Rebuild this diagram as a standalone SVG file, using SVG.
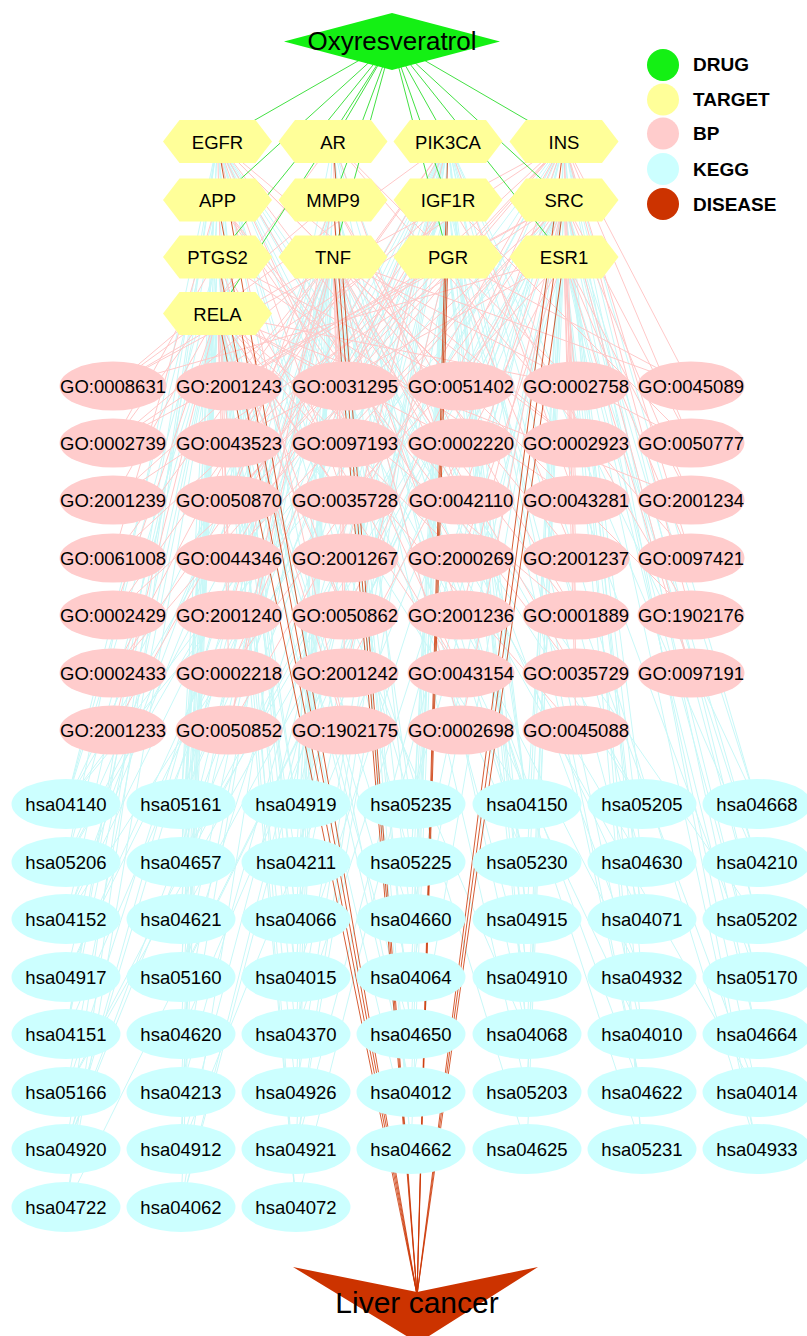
<svg xmlns="http://www.w3.org/2000/svg" xmlns:xlink="http://www.w3.org/1999/xlink" width="807" height="1336" viewBox="0 0 807 1336">
<style>
text{font-family:"Liberation Sans",Arial,sans-serif;fill:#000;text-anchor:middle;font-size:18.5px}
.leg{text-anchor:start;font-weight:bold;font-size:19px}
.e{fill:none;stroke-width:1}
.ek{stroke:#c8f8f8}
.eb{stroke:#ffc8c8}
.ed{stroke:#2edc2e;stroke-width:0.9}
.ex{stroke:#cc3300;stroke-width:0.8}
.drug{fill:#14f014}
.tg{fill:#ffff99}
.bp{fill:#ffcccc}
.kg{fill:#ccffff}
.ds{fill:#cc3300}
</style>
<defs>
<polygon id="hex" points="-54.5,0 -38,-21.5 38,-21.5 54.5,0 38,21.5 -38,21.5"/>
<ellipse id="goe" rx="53.5" ry="24.5"/>
<ellipse id="kge" rx="54.5" ry="25"/>
</defs>
<g id="edges">
<path class="e ek" d="M217.5 141.5L181 804M217.5 141.5L411 804M217.5 141.5L642 804M217.5 141.5L66 862M217.5 141.5L411 862M217.5 141.5L527 862M217.5 141.5L642 862M217.5 141.5L181 919M217.5 141.5L296 919M217.5 141.5L757 919M217.5 141.5L296 977M217.5 141.5L642 977M217.5 141.5L66 1034M217.5 141.5L642 1034M217.5 141.5L411 1092M217.5 141.5L757 1092M217.5 141.5L66 1149M217.5 141.5L527 1149M217.5 141.5L66 1207M217.5 141.5L296 1207"/>
<path class="e ek" d="M448 141.5L66 804M448 141.5L181 804M448 141.5L296 804M448 141.5L527 804M448 141.5L757 804M448 141.5L66 862M448 141.5L296 862M448 141.5L411 862M448 141.5L642 862M448 141.5L757 862M448 141.5L66 919M448 141.5L411 919M448 141.5L527 919M448 141.5L66 977M448 141.5L181 977M448 141.5L411 977M448 141.5L527 977M448 141.5L757 977M448 141.5L66 1034M448 141.5L296 1034M448 141.5L527 1034M448 141.5L642 1034M448 141.5L181 1092M448 141.5L296 1092M448 141.5L411 1092M448 141.5L642 1092M448 141.5L66 1149M448 141.5L181 1149M448 141.5L296 1149M448 141.5L757 1149M448 141.5L181 1207"/>
<path class="e ek" d="M564 141.5L66 804M564 141.5L411 804M564 141.5L757 804M564 141.5L181 862M564 141.5L527 862M564 141.5L66 919M564 141.5L527 919M564 141.5L757 919M564 141.5L296 977M564 141.5L642 977M564 141.5L181 1034M564 141.5L757 1034M564 141.5L66 1092M564 141.5L527 1092M564 141.5L296 1149M564 141.5L642 1149M564 141.5L757 1149M564 141.5L296 1207"/>
<path class="e ek" d="M564 200L66 804M564 200L296 804M564 200L642 804M564 200L757 804M564 200L181 862M564 200L642 862M564 200L757 862M564 200L181 919M564 200L411 919M564 200L642 919M564 200L757 919M564 200L181 977M564 200L411 977M564 200L757 977M564 200L296 1034M564 200L527 1034M564 200L66 1092M564 200L411 1092M564 200L757 1092M564 200L181 1149M564 200L527 1149M564 200L66 1207"/>
<path class="e ek" d="M448 200L181 804M448 200L527 804M448 200L66 862M448 200L411 862M448 200L296 919M448 200L642 919M448 200L66 977M448 200L527 977M448 200L411 1034M448 200L642 1092M448 200L66 1149M448 200L411 1149M448 200L181 1207"/>
<path class="e ek" d="M217.5 313.5L66 804M217.5 313.5L181 804M217.5 313.5L296 804M217.5 313.5L527 804M217.5 313.5L66 862M217.5 313.5L181 862M217.5 313.5L296 862M217.5 313.5L181 919M217.5 313.5L411 919M217.5 313.5L66 977M217.5 313.5L181 977M217.5 313.5L296 977M217.5 313.5L411 977M217.5 313.5L66 1034M217.5 313.5L181 1034M217.5 313.5L411 1034M217.5 313.5L527 1034M217.5 313.5L66 1092M217.5 313.5L181 1092M217.5 313.5L296 1092M217.5 313.5L181 1149M217.5 313.5L411 1149M217.5 313.5L66 1207M217.5 313.5L181 1207M217.5 313.5L296 1207"/>
<path class="e ek" d="M333 257L66 804M333 257L181 804M333 257L411 804M333 257L642 804M333 257L66 862M333 257L181 862M333 257L296 862M333 257L527 862M333 257L66 919M333 257L181 919M333 257L296 919M333 257L411 919M333 257L642 919M333 257L181 977M333 257L296 977M333 257L527 977M333 257L181 1034M333 257L296 1034M333 257L411 1034M333 257L66 1092M333 257L296 1092M333 257L527 1092M333 257L642 1092M333 257L66 1149M333 257L296 1149M333 257L411 1149M333 257L181 1207"/>
<path class="e ek" d="M333 200L181 804M333 200L296 804M333 200L527 862M333 200L66 919M333 200L296 977M333 200L411 1034M333 200L181 1092M333 200L66 1149M333 200L642 1149"/>
<path class="e ek" d="M217.5 257L66 804M217.5 257L296 804M217.5 257L181 862M217.5 257L66 919M217.5 257L181 977M217.5 257L296 1034M217.5 257L411 1092M217.5 257L181 1149M217.5 257L296 1207"/>
<path class="e ek" d="M564 257L411 804M564 257L527 804M564 257L757 862M564 257L642 919M564 257L757 977M564 257L642 1034M564 257L757 1034M564 257L527 1092M564 257L757 1149M564 257L642 1149"/>
<path class="e ek" d="M448 257L527 804M448 257L296 862M448 257L527 919M448 257L411 977M448 257L527 1034M448 257L757 1092M448 257L296 1149"/>
<path class="e ek" d="M333 141.5L296 804M333 141.5L527 804M333 141.5L411 862M333 141.5L181 919M333 141.5L642 977M333 141.5L527 1034M333 141.5L411 1149"/>
<path class="e ek" d="M217.5 200L66 804M217.5 200L181 862M217.5 200L296 919M217.5 200L66 1034M217.5 200L181 1149"/>
<path class="e eb" d="M333 257L113 386M333 257L229 386M333 257L461 386M333 257L691 386M333 257L113 443M333 257L345 443M333 257L576 443M333 257L691 443M333 257L229 500M333 257L461 500M333 257L113 558M333 257L345 558M333 257L576 558M333 257L229 615M333 257L461 615M333 257L691 615M333 257L113 673M333 257L345 673M333 257L576 673M333 257L229 730M333 257L461 730"/>
<path class="e eb" d="M217.5 313.5L345 386M217.5 313.5L576 386M217.5 313.5L229 443M217.5 313.5L461 443M217.5 313.5L113 500M217.5 313.5L345 500M217.5 313.5L691 500M217.5 313.5L229 558M217.5 313.5L461 558M217.5 313.5L113 615M217.5 313.5L345 615M217.5 313.5L576 615M217.5 313.5L229 673M217.5 313.5L461 673M217.5 313.5L113 730M217.5 313.5L345 730M217.5 313.5L576 730"/>
<path class="e eb" d="M564 141.5L113 386M564 141.5L345 386M564 141.5L691 386M564 141.5L113 443M564 141.5L461 443M564 141.5L691 443M564 141.5L229 500M564 141.5L576 500M564 141.5L113 558M564 141.5L691 558M564 141.5L345 615M564 141.5L691 615M564 141.5L113 673M564 141.5L576 673M564 141.5L229 730"/>
<path class="e eb" d="M564 200L229 386M564 200L461 386M564 200L113 443M564 200L345 443M564 200L691 443M564 200L113 500M564 200L461 500M564 200L691 500M564 200L229 558M564 200L576 558M564 200L113 615M564 200L461 615M564 200L229 673M564 200L691 673M564 200L461 730"/>
<path class="e eb" d="M564 257L113 386M564 257L576 386M564 257L229 443M564 257L576 443M564 257L345 500M564 257L691 500M564 257L461 558M564 257L691 558M564 257L576 615M564 257L345 673M564 257L691 673M564 257L576 730"/>
<path class="e eb" d="M217.5 141.5L461 386M217.5 141.5L576 443M217.5 141.5L345 500M217.5 141.5L576 500M217.5 141.5L461 558M217.5 141.5L229 615M217.5 141.5L576 615M217.5 141.5L461 673M217.5 141.5L345 730"/>
<path class="e eb" d="M448 141.5L113 386M448 141.5L229 443M448 141.5L576 500M448 141.5L345 558M448 141.5L113 615M448 141.5L229 673M448 141.5L113 730"/>
<path class="e eb" d="M448 200L345 386M448 200L691 443M448 200L113 500M448 200L229 558M448 200L691 615M448 200L113 673"/>
<path class="e eb" d="M333 141.5L576 386M333 141.5L113 443M333 141.5L461 500M333 141.5L691 558M333 141.5L345 615"/>
<path class="e eb" d="M448 257L229 386M448 257L691 386M448 257L229 500M448 257L576 558M448 257L345 673"/>
<path class="e eb" d="M333 200L113 386M333 200L461 443M333 200L229 500M333 200L576 615M333 200L229 730"/>
<path class="e eb" d="M217.5 200L345 386M217.5 200L461 500M217.5 200L113 558M217.5 200L576 673"/>
<path class="e eb" d="M217.5 257L461 386M217.5 257L113 443M217.5 257L576 500M217.5 257L345 615M217.5 257L461 673"/>
<path class="e ed" d="M392 41.5L217.5 141.5M392 41.5L333 141.5M392 41.5L448 141.5M392 41.5L564 141.5M392 41.5L217.5 200M392 41.5L333 200M392 41.5L448 200M392 41.5L564 200M392 41.5L217.5 257M392 41.5L333 257M392 41.5L448 257M392 41.5L564 257M392 41.5L217.5 313.5"/>
<path class="e ex" d="M417 1295L217.5 141.5M417 1295L333 141.5M417 1295L448 141.5M417 1295L564 141.5M417 1295L217.5 200M417 1295L333 200M417 1295L448 200M417 1295L564 200M417 1295L217.5 257M417 1295L333 257M417 1295L448 257M417 1295L564 257M417 1295L217.5 313.5"/>
</g>
<g id="legend">
<circle class="drug" cx="663" cy="65" r="16"/><text class="leg" x="693" y="71">DRUG</text>
<circle class="tg" cx="663" cy="99.5" r="16"/><text class="leg" x="693" y="106">TARGET</text>
<circle class="bp" cx="663" cy="133.5" r="16"/><text class="leg" x="693" y="140">BP</text>
<circle class="kg" cx="663" cy="169" r="16"/><text class="leg" x="693" y="175.5">KEGG</text>
<circle class="ds" cx="663" cy="204" r="16"/><text class="leg" x="693" y="210.5">DISEASE</text>
</g>
<g id="drug-Oxyresveratrol">
<polygon class="drug" points="284,41.5 392,13 500,41.5 392,70"/>
<text x="392" y="50" style="font-size:26px">Oxyresveratrol</text>
</g>
<g id="target-EGFR" transform="translate(217.5,141.5)"><use xlink:href="#hex" class="tg"/><text y="7">EGFR</text></g>
<g id="target-AR" transform="translate(333,141.5)"><use xlink:href="#hex" class="tg"/><text y="7">AR</text></g>
<g id="target-PIK3CA" transform="translate(448,141.5)"><use xlink:href="#hex" class="tg"/><text y="7">PIK3CA</text></g>
<g id="target-INS" transform="translate(564,141.5)"><use xlink:href="#hex" class="tg"/><text y="7">INS</text></g>
<g id="target-APP" transform="translate(217.5,200)"><use xlink:href="#hex" class="tg"/><text y="7">APP</text></g>
<g id="target-MMP9" transform="translate(333,200)"><use xlink:href="#hex" class="tg"/><text y="7">MMP9</text></g>
<g id="target-IGF1R" transform="translate(448,200)"><use xlink:href="#hex" class="tg"/><text y="7">IGF1R</text></g>
<g id="target-SRC" transform="translate(564,200)"><use xlink:href="#hex" class="tg"/><text y="7">SRC</text></g>
<g id="target-PTGS2" transform="translate(217.5,257)"><use xlink:href="#hex" class="tg"/><text y="7">PTGS2</text></g>
<g id="target-TNF" transform="translate(333,257)"><use xlink:href="#hex" class="tg"/><text y="7">TNF</text></g>
<g id="target-PGR" transform="translate(448,257)"><use xlink:href="#hex" class="tg"/><text y="7">PGR</text></g>
<g id="target-ESR1" transform="translate(564,257)"><use xlink:href="#hex" class="tg"/><text y="7">ESR1</text></g>
<g id="target-RELA" transform="translate(217.5,313.5)"><use xlink:href="#hex" class="tg"/><text y="7">RELA</text></g>
<g id="go-0008631" transform="translate(113,386)"><use xlink:href="#goe" class="bp"/><text y="6.8">GO:0008631</text></g>
<g id="go-2001243" transform="translate(229,386)"><use xlink:href="#goe" class="bp"/><text y="6.8">GO:2001243</text></g>
<g id="go-0031295" transform="translate(345,386)"><use xlink:href="#goe" class="bp"/><text y="6.8">GO:0031295</text></g>
<g id="go-0051402" transform="translate(461,386)"><use xlink:href="#goe" class="bp"/><text y="6.8">GO:0051402</text></g>
<g id="go-0002758" transform="translate(576,386)"><use xlink:href="#goe" class="bp"/><text y="6.8">GO:0002758</text></g>
<g id="go-0045089" transform="translate(691,386)"><use xlink:href="#goe" class="bp"/><text y="6.8">GO:0045089</text></g>
<g id="go-0002739" transform="translate(113,443)"><use xlink:href="#goe" class="bp"/><text y="6.8">GO:0002739</text></g>
<g id="go-0043523" transform="translate(229,443)"><use xlink:href="#goe" class="bp"/><text y="6.8">GO:0043523</text></g>
<g id="go-0097193" transform="translate(345,443)"><use xlink:href="#goe" class="bp"/><text y="6.8">GO:0097193</text></g>
<g id="go-0002220" transform="translate(461,443)"><use xlink:href="#goe" class="bp"/><text y="6.8">GO:0002220</text></g>
<g id="go-0002923" transform="translate(576,443)"><use xlink:href="#goe" class="bp"/><text y="6.8">GO:0002923</text></g>
<g id="go-0050777" transform="translate(691,443)"><use xlink:href="#goe" class="bp"/><text y="6.8">GO:0050777</text></g>
<g id="go-2001239" transform="translate(113,500)"><use xlink:href="#goe" class="bp"/><text y="6.8">GO:2001239</text></g>
<g id="go-0050870" transform="translate(229,500)"><use xlink:href="#goe" class="bp"/><text y="6.8">GO:0050870</text></g>
<g id="go-0035728" transform="translate(345,500)"><use xlink:href="#goe" class="bp"/><text y="6.8">GO:0035728</text></g>
<g id="go-0042110" transform="translate(461,500)"><use xlink:href="#goe" class="bp"/><text y="6.8">GO:0042110</text></g>
<g id="go-0043281" transform="translate(576,500)"><use xlink:href="#goe" class="bp"/><text y="6.8">GO:0043281</text></g>
<g id="go-2001234" transform="translate(691,500)"><use xlink:href="#goe" class="bp"/><text y="6.8">GO:2001234</text></g>
<g id="go-0061008" transform="translate(113,558)"><use xlink:href="#goe" class="bp"/><text y="6.8">GO:0061008</text></g>
<g id="go-0044346" transform="translate(229,558)"><use xlink:href="#goe" class="bp"/><text y="6.8">GO:0044346</text></g>
<g id="go-2001267" transform="translate(345,558)"><use xlink:href="#goe" class="bp"/><text y="6.8">GO:2001267</text></g>
<g id="go-2000269" transform="translate(461,558)"><use xlink:href="#goe" class="bp"/><text y="6.8">GO:2000269</text></g>
<g id="go-2001237" transform="translate(576,558)"><use xlink:href="#goe" class="bp"/><text y="6.8">GO:2001237</text></g>
<g id="go-0097421" transform="translate(691,558)"><use xlink:href="#goe" class="bp"/><text y="6.8">GO:0097421</text></g>
<g id="go-0002429" transform="translate(113,615)"><use xlink:href="#goe" class="bp"/><text y="6.8">GO:0002429</text></g>
<g id="go-2001240" transform="translate(229,615)"><use xlink:href="#goe" class="bp"/><text y="6.8">GO:2001240</text></g>
<g id="go-0050862" transform="translate(345,615)"><use xlink:href="#goe" class="bp"/><text y="6.8">GO:0050862</text></g>
<g id="go-2001236" transform="translate(461,615)"><use xlink:href="#goe" class="bp"/><text y="6.8">GO:2001236</text></g>
<g id="go-0001889" transform="translate(576,615)"><use xlink:href="#goe" class="bp"/><text y="6.8">GO:0001889</text></g>
<g id="go-1902176" transform="translate(691,615)"><use xlink:href="#goe" class="bp"/><text y="6.8">GO:1902176</text></g>
<g id="go-0002433" transform="translate(113,673)"><use xlink:href="#goe" class="bp"/><text y="6.8">GO:0002433</text></g>
<g id="go-0002218" transform="translate(229,673)"><use xlink:href="#goe" class="bp"/><text y="6.8">GO:0002218</text></g>
<g id="go-2001242" transform="translate(345,673)"><use xlink:href="#goe" class="bp"/><text y="6.8">GO:2001242</text></g>
<g id="go-0043154" transform="translate(461,673)"><use xlink:href="#goe" class="bp"/><text y="6.8">GO:0043154</text></g>
<g id="go-0035729" transform="translate(576,673)"><use xlink:href="#goe" class="bp"/><text y="6.8">GO:0035729</text></g>
<g id="go-0097191" transform="translate(691,673)"><use xlink:href="#goe" class="bp"/><text y="6.8">GO:0097191</text></g>
<g id="go-2001233" transform="translate(113,730)"><use xlink:href="#goe" class="bp"/><text y="6.8">GO:2001233</text></g>
<g id="go-0050852" transform="translate(229,730)"><use xlink:href="#goe" class="bp"/><text y="6.8">GO:0050852</text></g>
<g id="go-1902175" transform="translate(345,730)"><use xlink:href="#goe" class="bp"/><text y="6.8">GO:1902175</text></g>
<g id="go-0002698" transform="translate(461,730)"><use xlink:href="#goe" class="bp"/><text y="6.8">GO:0002698</text></g>
<g id="go-0045088" transform="translate(576,730)"><use xlink:href="#goe" class="bp"/><text y="6.8">GO:0045088</text></g>
<g id="kegg-hsa04140" transform="translate(66,804)"><use xlink:href="#kge" class="kg"/><text y="6.7">hsa04140</text></g>
<g id="kegg-hsa05161" transform="translate(181,804)"><use xlink:href="#kge" class="kg"/><text y="6.7">hsa05161</text></g>
<g id="kegg-hsa04919" transform="translate(296,804)"><use xlink:href="#kge" class="kg"/><text y="6.7">hsa04919</text></g>
<g id="kegg-hsa05235" transform="translate(411,804)"><use xlink:href="#kge" class="kg"/><text y="6.7">hsa05235</text></g>
<g id="kegg-hsa04150" transform="translate(527,804)"><use xlink:href="#kge" class="kg"/><text y="6.7">hsa04150</text></g>
<g id="kegg-hsa05205" transform="translate(642,804)"><use xlink:href="#kge" class="kg"/><text y="6.7">hsa05205</text></g>
<g id="kegg-hsa04668" transform="translate(757,804)"><use xlink:href="#kge" class="kg"/><text y="6.7">hsa04668</text></g>
<g id="kegg-hsa05206" transform="translate(66,862)"><use xlink:href="#kge" class="kg"/><text y="6.7">hsa05206</text></g>
<g id="kegg-hsa04657" transform="translate(181,862)"><use xlink:href="#kge" class="kg"/><text y="6.7">hsa04657</text></g>
<g id="kegg-hsa04211" transform="translate(296,862)"><use xlink:href="#kge" class="kg"/><text y="6.7">hsa04211</text></g>
<g id="kegg-hsa05225" transform="translate(411,862)"><use xlink:href="#kge" class="kg"/><text y="6.7">hsa05225</text></g>
<g id="kegg-hsa05230" transform="translate(527,862)"><use xlink:href="#kge" class="kg"/><text y="6.7">hsa05230</text></g>
<g id="kegg-hsa04630" transform="translate(642,862)"><use xlink:href="#kge" class="kg"/><text y="6.7">hsa04630</text></g>
<g id="kegg-hsa04210" transform="translate(757,862)"><use xlink:href="#kge" class="kg"/><text y="6.7">hsa04210</text></g>
<g id="kegg-hsa04152" transform="translate(66,919)"><use xlink:href="#kge" class="kg"/><text y="6.7">hsa04152</text></g>
<g id="kegg-hsa04621" transform="translate(181,919)"><use xlink:href="#kge" class="kg"/><text y="6.7">hsa04621</text></g>
<g id="kegg-hsa04066" transform="translate(296,919)"><use xlink:href="#kge" class="kg"/><text y="6.7">hsa04066</text></g>
<g id="kegg-hsa04660" transform="translate(411,919)"><use xlink:href="#kge" class="kg"/><text y="6.7">hsa04660</text></g>
<g id="kegg-hsa04915" transform="translate(527,919)"><use xlink:href="#kge" class="kg"/><text y="6.7">hsa04915</text></g>
<g id="kegg-hsa04071" transform="translate(642,919)"><use xlink:href="#kge" class="kg"/><text y="6.7">hsa04071</text></g>
<g id="kegg-hsa05202" transform="translate(757,919)"><use xlink:href="#kge" class="kg"/><text y="6.7">hsa05202</text></g>
<g id="kegg-hsa04917" transform="translate(66,977)"><use xlink:href="#kge" class="kg"/><text y="6.7">hsa04917</text></g>
<g id="kegg-hsa05160" transform="translate(181,977)"><use xlink:href="#kge" class="kg"/><text y="6.7">hsa05160</text></g>
<g id="kegg-hsa04015" transform="translate(296,977)"><use xlink:href="#kge" class="kg"/><text y="6.7">hsa04015</text></g>
<g id="kegg-hsa04064" transform="translate(411,977)"><use xlink:href="#kge" class="kg"/><text y="6.7">hsa04064</text></g>
<g id="kegg-hsa04910" transform="translate(527,977)"><use xlink:href="#kge" class="kg"/><text y="6.7">hsa04910</text></g>
<g id="kegg-hsa04932" transform="translate(642,977)"><use xlink:href="#kge" class="kg"/><text y="6.7">hsa04932</text></g>
<g id="kegg-hsa05170" transform="translate(757,977)"><use xlink:href="#kge" class="kg"/><text y="6.7">hsa05170</text></g>
<g id="kegg-hsa04151" transform="translate(66,1034)"><use xlink:href="#kge" class="kg"/><text y="6.7">hsa04151</text></g>
<g id="kegg-hsa04620" transform="translate(181,1034)"><use xlink:href="#kge" class="kg"/><text y="6.7">hsa04620</text></g>
<g id="kegg-hsa04370" transform="translate(296,1034)"><use xlink:href="#kge" class="kg"/><text y="6.7">hsa04370</text></g>
<g id="kegg-hsa04650" transform="translate(411,1034)"><use xlink:href="#kge" class="kg"/><text y="6.7">hsa04650</text></g>
<g id="kegg-hsa04068" transform="translate(527,1034)"><use xlink:href="#kge" class="kg"/><text y="6.7">hsa04068</text></g>
<g id="kegg-hsa04010" transform="translate(642,1034)"><use xlink:href="#kge" class="kg"/><text y="6.7">hsa04010</text></g>
<g id="kegg-hsa04664" transform="translate(757,1034)"><use xlink:href="#kge" class="kg"/><text y="6.7">hsa04664</text></g>
<g id="kegg-hsa05166" transform="translate(66,1092)"><use xlink:href="#kge" class="kg"/><text y="6.7">hsa05166</text></g>
<g id="kegg-hsa04213" transform="translate(181,1092)"><use xlink:href="#kge" class="kg"/><text y="6.7">hsa04213</text></g>
<g id="kegg-hsa04926" transform="translate(296,1092)"><use xlink:href="#kge" class="kg"/><text y="6.7">hsa04926</text></g>
<g id="kegg-hsa04012" transform="translate(411,1092)"><use xlink:href="#kge" class="kg"/><text y="6.7">hsa04012</text></g>
<g id="kegg-hsa05203" transform="translate(527,1092)"><use xlink:href="#kge" class="kg"/><text y="6.7">hsa05203</text></g>
<g id="kegg-hsa04622" transform="translate(642,1092)"><use xlink:href="#kge" class="kg"/><text y="6.7">hsa04622</text></g>
<g id="kegg-hsa04014" transform="translate(757,1092)"><use xlink:href="#kge" class="kg"/><text y="6.7">hsa04014</text></g>
<g id="kegg-hsa04920" transform="translate(66,1149)"><use xlink:href="#kge" class="kg"/><text y="6.7">hsa04920</text></g>
<g id="kegg-hsa04912" transform="translate(181,1149)"><use xlink:href="#kge" class="kg"/><text y="6.7">hsa04912</text></g>
<g id="kegg-hsa04921" transform="translate(296,1149)"><use xlink:href="#kge" class="kg"/><text y="6.7">hsa04921</text></g>
<g id="kegg-hsa04662" transform="translate(411,1149)"><use xlink:href="#kge" class="kg"/><text y="6.7">hsa04662</text></g>
<g id="kegg-hsa04625" transform="translate(527,1149)"><use xlink:href="#kge" class="kg"/><text y="6.7">hsa04625</text></g>
<g id="kegg-hsa05231" transform="translate(642,1149)"><use xlink:href="#kge" class="kg"/><text y="6.7">hsa05231</text></g>
<g id="kegg-hsa04933" transform="translate(757,1149)"><use xlink:href="#kge" class="kg"/><text y="6.7">hsa04933</text></g>
<g id="kegg-hsa04722" transform="translate(66,1207)"><use xlink:href="#kge" class="kg"/><text y="6.7">hsa04722</text></g>
<g id="kegg-hsa04062" transform="translate(181,1207)"><use xlink:href="#kge" class="kg"/><text y="6.7">hsa04062</text></g>
<g id="kegg-hsa04072" transform="translate(296,1207)"><use xlink:href="#kge" class="kg"/><text y="6.7">hsa04072</text></g>
<g id="disease-LiverCancer">
<polygon class="ds" points="293,1267 417,1292 538,1267 418,1343"/>
<text x="417" y="1313" style="font-size:30px">Liver cancer</text>
</g>
</svg>
